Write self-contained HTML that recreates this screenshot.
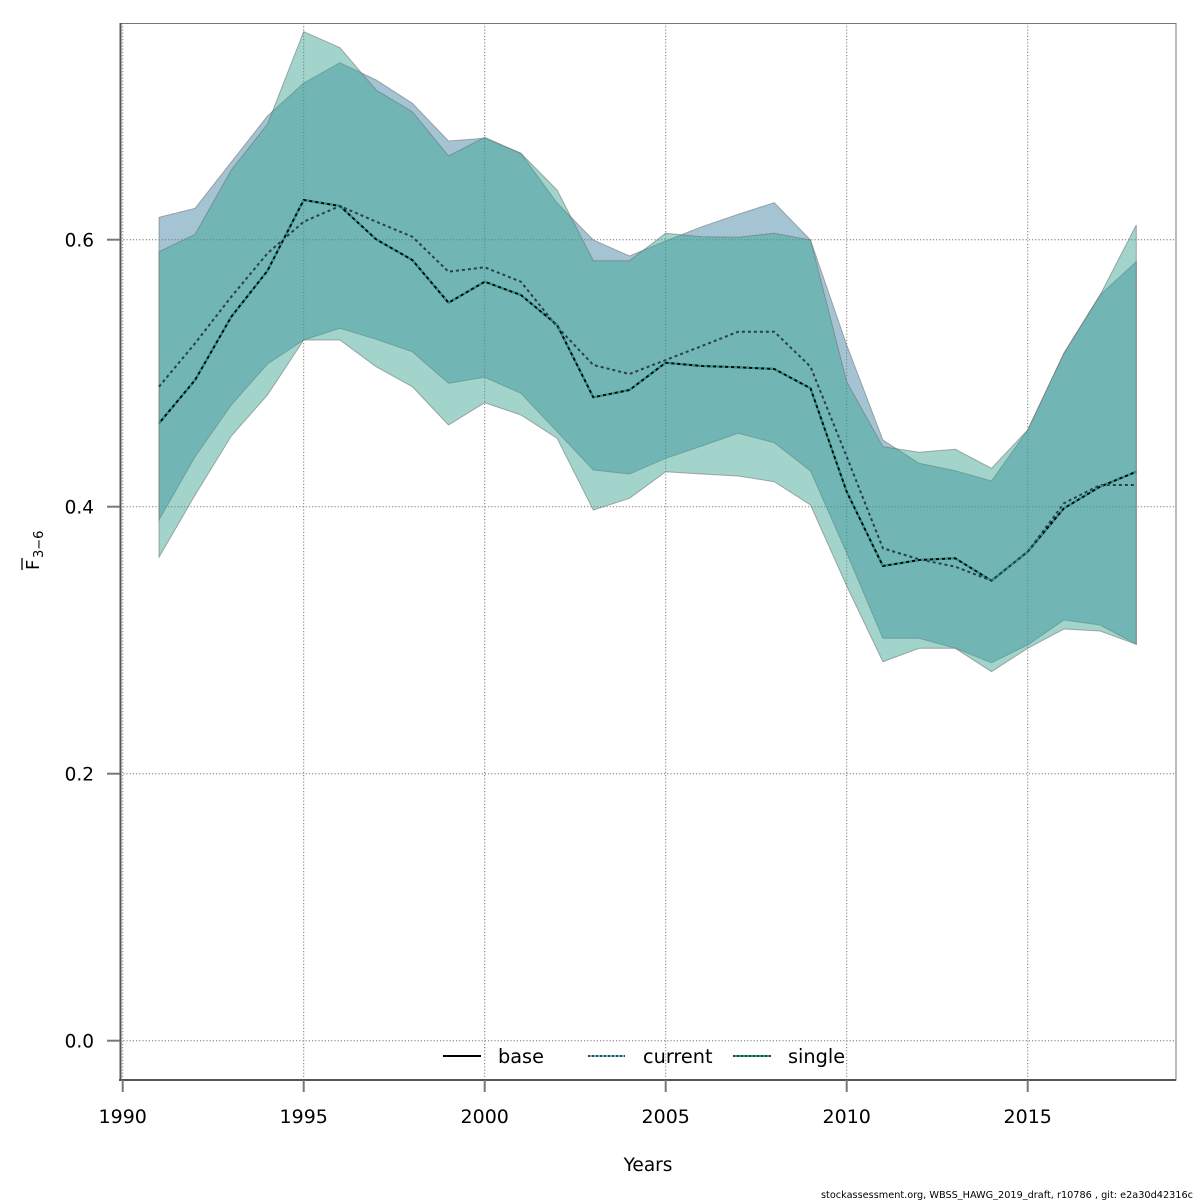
<!DOCTYPE html>
<html><head><meta charset="utf-8"><style>
html,body{margin:0;padding:0;background:#fff;}
svg{display:block;}
text{font-family:"DejaVu Sans","Liberation Sans",sans-serif;fill:#000;}
</style></head><body>
<svg width="1200" height="1200" viewBox="0 0 1200 1200" xmlns="http://www.w3.org/2000/svg">
<rect width="1200" height="1200" fill="#fff"/>
<!-- grid -->
<g stroke="#777" stroke-width="1" stroke-dasharray="1.2 2" fill="none">
<line x1="122.7" y1="23" x2="122.7" y2="1080"/>
<line x1="303.7" y1="23" x2="303.7" y2="1080"/>
<line x1="484.7" y1="23" x2="484.7" y2="1080"/>
<line x1="665.7" y1="23" x2="665.7" y2="1080"/>
<line x1="846.7" y1="23" x2="846.7" y2="1080"/>
<line x1="1027.7" y1="23" x2="1027.7" y2="1080"/>
<line x1="120" y1="1040.7" x2="1176" y2="1040.7"/>
<line x1="120" y1="773.7" x2="1176" y2="773.7"/>
<line x1="120" y1="506.7" x2="1176" y2="506.7"/>
<line x1="120" y1="239.7" x2="1176" y2="239.7"/>
</g>
<!-- bands -->
<polygon fill="rgb(61,129,163)" fill-opacity="0.47" stroke="rgba(110,110,110,0.55)" stroke-width="1" points="159,217.3 195.1,208.3 231.3,162 267.5,116 303.7,83 339.9,62.7 376.1,80 412.3,103.3 448.5,141 484.7,138.3 520.9,153.3 557.1,203 593.3,240 629.5,256 665.7,241 701.9,226.7 738.1,214.3 774.3,202.7 810.5,240 846.7,345 882.9,440 919.1,463.3 955.3,470.7 991.5,481 1027.7,430 1063.9,353.3 1100.1,295 1136.3,261.7 1136.3,644.3 1100.1,625 1063.9,620 1027.7,645 991.5,662.7 955.3,648.3 919.1,638.3 882.9,638.3 846.7,553 810.5,471 774.3,442.7 738.1,433.3 701.9,446 665.7,458.3 629.5,474 593.3,470 557.1,431.7 520.9,393.3 484.7,377.3 448.5,383.3 412.3,351.7 376.1,339.3 339.9,328.3 303.7,340 267.5,364 231.3,405 195.1,456.7 159,520"/>
<polygon fill="rgb(57,163,146)" fill-opacity="0.47" stroke="rgba(110,110,110,0.55)" stroke-width="1" points="159,251.7 195.1,234.3 231.3,170 267.5,124 303.7,31.7 339.9,47.7 376.1,90 412.3,111.7 448.5,156 484.7,137.3 520.9,153.3 557.1,190 593.3,260.7 629.5,260.7 665.7,233.3 701.9,236.7 738.1,237.3 774.3,233.3 810.5,240 846.7,381.7 882.9,446.7 919.1,452.3 955.3,449.3 991.5,468.3 1027.7,430 1063.9,353.3 1100.1,295 1136.3,225 1136.3,644.3 1100.1,631 1063.9,629 1027.7,648.3 991.5,671.7 955.3,648.3 919.1,648.3 882.9,661.7 846.7,586 810.5,505 774.3,481.7 738.1,476 701.9,474 665.7,471.7 629.5,498.3 593.3,510 557.1,438.3 520.9,415 484.7,402.7 448.5,425 412.3,386.7 376.1,366.7 339.9,340 303.7,340 267.5,395 231.3,436 195.1,495 159,557.3"/>
<!-- lines -->
<polyline fill="none" stroke="#000" stroke-width="2" stroke-linejoin="round" points="159,423.3 195.1,380 231.3,316.7 267.5,270.7 303.7,200 339.9,206 376.1,239.3 412.3,260 448.5,302.7 484.7,281.7 520.9,295 557.1,325 593.3,397.3 629.5,390 665.7,362.7 701.9,366 738.1,367.3 774.3,369 810.5,388.3 846.7,491.7 882.9,566 919.1,560 955.3,558.3 991.5,580.7 1027.7,551.7 1063.9,508.3 1100.1,486.7 1136.3,471.7"/>
<polyline fill="none" stroke="#2a3f4a" stroke-width="2" stroke-dasharray="3 3" points="159,386.7 195.1,343.3 231.3,296.7 267.5,253.3 303.7,221.7 339.9,206 376.1,221.7 412.3,236.7 448.5,271.7 484.7,267.3 520.9,281.7 557.1,326.7 593.3,365 629.5,374 665.7,360 701.9,346 738.1,331.7 774.3,331.7 810.5,366.7 846.7,456.7 882.9,548.3 919.1,559.3 955.3,566.7 991.5,580.7 1027.7,551.7 1063.9,503.3 1100.1,485 1136.3,485"/>
<polyline fill="none" stroke="#2a9d8a" stroke-width="2" stroke-dasharray="3 3" points="159,423.3 195.1,380 231.3,316.7 267.5,270.7 303.7,200 339.9,206 376.1,239.3 412.3,260 448.5,302.7 484.7,281.7 520.9,295 557.1,325 593.3,397.3 629.5,390 665.7,362.7 701.9,366 738.1,367.3 774.3,369 810.5,388.3 846.7,491.7 882.9,566 919.1,560 955.3,558.3 991.5,580.7 1027.7,551.7 1063.9,508.3 1100.1,486.7 1136.3,471.7"/>
<!-- frame -->
<rect x="120.5" y="23.5" width="1055.5" height="1056.5" fill="none" stroke="#777" stroke-width="1"/>
<line x1="120.5" y1="23" x2="120.5" y2="1081" stroke="#555" stroke-width="2"/>
<line x1="119" y1="1080" x2="1176" y2="1080" stroke="#555" stroke-width="2"/>
<!-- ticks -->
<g stroke="#777" stroke-width="2">
<line x1="122.7" y1="1080" x2="122.7" y2="1092"/>
<line x1="303.7" y1="1080" x2="303.7" y2="1092"/>
<line x1="484.7" y1="1080" x2="484.7" y2="1092"/>
<line x1="665.7" y1="1080" x2="665.7" y2="1092"/>
<line x1="846.7" y1="1080" x2="846.7" y2="1092"/>
<line x1="1027.7" y1="1080" x2="1027.7" y2="1092"/>
<line x1="107" y1="1040.7" x2="120" y2="1040.7"/>
<line x1="107" y1="773.7" x2="120" y2="773.7"/>
<line x1="107" y1="506.7" x2="120" y2="506.7"/>
<line x1="107" y1="239.7" x2="120" y2="239.7"/>
</g>
<g font-size="19" text-anchor="middle">
<text x="122.7" y="1123">1990</text>
<text x="303.7" y="1123">1995</text>
<text x="484.7" y="1123">2000</text>
<text x="665.7" y="1123">2005</text>
<text x="846.7" y="1123">2010</text>
<text x="1027.7" y="1123">2015</text>
</g>
<g font-size="18.5" text-anchor="end">
<text x="94" y="1047.5">0.0</text>
<text x="94" y="780.5">0.2</text>
<text x="94" y="513.5">0.4</text>
<text x="94" y="246.5">0.6</text>
</g>
<text x="648" y="1171" font-size="18.5" text-anchor="middle">Years</text>
<g transform="translate(39,570) rotate(-90)">
<text x="0" y="0" font-size="18">F</text>
<line x1="0" y1="-17" x2="12" y2="-17" stroke="#000" stroke-width="1.3"/>
<text x="12" y="4" font-size="13">3−6</text>
</g>
<!-- legend -->
<line x1="443" y1="1056" x2="481" y2="1056" stroke="#000" stroke-width="2"/>
<text x="498" y="1063" font-size="19.3">base</text>
<line x1="588" y1="1056" x2="625" y2="1056" stroke="#6cb6dc" stroke-width="2"/>
<line x1="588" y1="1056" x2="625" y2="1056" stroke="#2a4a5a" stroke-width="2" stroke-dasharray="2 2"/>
<text x="643" y="1063" font-size="19.3">current</text>
<line x1="733" y1="1056" x2="771" y2="1056" stroke="#2a9d8a" stroke-width="2"/>
<line x1="733" y1="1056" x2="771" y2="1056" stroke="#1d4a44" stroke-width="2" stroke-dasharray="2 2"/>
<text x="788" y="1063" font-size="19.3">single</text>
<text x="821" y="1198" font-size="10" textLength="372" lengthAdjust="spacingAndGlyphs" font-family="Liberation Sans, sans-serif">stockassessment.org, WBSS_HAWG_2019_draft, r10786 , git: e2a30d42316c</text>
</svg>
</body></html>
